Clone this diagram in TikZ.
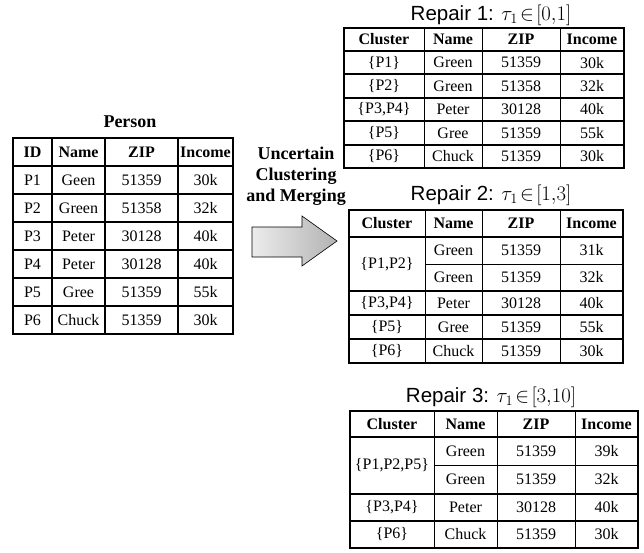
\documentclass[tikz,border=0pt]{standalone}
\usepackage{fontspec}
\setmainfont{Liberation Serif}
\newfontfamily\titlefont{Liberation Sans}

\begin{document}
\begin{tikzpicture}[x=1pt,y=-1pt,
    outer/.style={line width=2.6pt},
    sep/.style={line width=2pt},
    inner/.style={line width=1pt},
    cell/.style={font=\fontsize{16}{18}\selectfont},
    head/.style={font=\fontsize{16}{18}\selectfont\bfseries},
    reptitle/.style={font=\titlefont\fontsize{20.5}{23}\selectfont, inner sep=1pt}]
    \useasboundingbox (0,0) rectangle (644,553);
    % Person table
    \node[font=\fontsize{18}{20}\selectfont\bfseries] (person) at (130,122) {Person};
    \foreach \x in {52,105,178}
    {   \draw[sep] (\x,138) -- (\x,334); }
    \foreach \y in {166,194,222,250,278,306}
    {   \draw[sep] (13,\y) -- (233,\y); }
    \draw[outer] (13,138) rectangle (233,334);
    \node[head] (ph1) at (32.5,152) {ID};
    \node[head] (ph2) at (78.5,152) {Name};
    \node[head] (ph3) at (141.5,152) {ZIP};
    \node[head] (ph4) at (205.5,152) {Income};
    \foreach \y/\a/\b/\c/\d [count=\i] in {180/P1/Geen/51359/30k, 208/P2/Green/51358/32k,
        236/P3/Peter/30128/40k, 264/P4/Peter/30128/40k, 292/P5/Gree/51359/55k, 320/P6/Chuck/51359/30k}
    {   \node[cell] (p\i a) at (32.5,\y) {\a};
        \node[cell] (p\i b) at (78.5,\y) {\b};
        \node[cell] (p\i c) at (141.5,\y) {\c};
        \node[cell] (p\i d) at (205.5,\y) {\d};
    }
    % arrow
    \node[font=\fontsize{18}{21}\selectfont\bfseries, align=center] (method) at (296,176)
        {Uncertain\\Clustering\\and Merging};
    \draw[left color=gray!15, right color=gray!60, draw=black, line width=0.6pt]
        (252,227) -- (302,227) -- (302,216) -- (337,241) -- (302,266) -- (302,257) -- (252,257) -- cycle;
    % Repair 1
    \node[reptitle] (rep1) at (491,15) {Repair 1: $\tau_1\!\in\![0{,}1]$};
    \foreach \x in {424,482,560}
    {   \draw[inner] (\x,28) -- (\x,168); }
    \foreach \y in {51,74.4,97.8,121.2,144.6}
    {   \draw[sep] (344,\y) -- (624,\y); }
    \draw[outer] (344,28) rectangle (624,168);
    \node[head] (ra1) at (384,39.5) {Cluster};
    \node[head] (ra2) at (453,39.5) {Name};
    \node[head] (ra3) at (521,39.5) {ZIP};
    \node[head] (ra4) at (592,39.5) {Income};
    \foreach \y/\a/\b/\c/\d [count=\i] in {62.7/{\{P1\}}/Green/51359/30k, 86.1/{\{P2\}}/Green/51358/32k,
        109.5/{\{P3,P4\}}/Peter/30128/40k, 132.9/{\{P5\}}/Gree/51359/55k, 156.3/{\{P6\}}/Chuck/51359/30k}
    {   \node[cell] (r\i a) at (384,\y) {\a};
        \node[cell] (r\i b) at (453,\y) {\b};
        \node[cell] (r\i c) at (521,\y) {\c};
        \node[cell] (r\i d) at (592,\y) {\d};
    }
    % Repair 2
    \node[reptitle] (rep2) at (491,195) {Repair 2: $\tau_1\!\in\![1{,}3]$};
    \foreach \x in {425,482,560}
    {   \draw[inner] (\x,210) -- (\x,363); }
    \draw[inner] (425,264) -- (623,264);
    \foreach \y in {237,291,315,339}
    {   \draw[sep] (349,\y) -- (623,\y); }
    \draw[outer] (349,210) rectangle (623,363);
    \node[head] (sa1) at (387,223.5) {Cluster};
    \node[head] (sa2) at (453.5,223.5) {Name};
    \node[head] (sa3) at (521,223.5) {ZIP};
    \node[head] (sa4) at (591.5,223.5) {Income};
    \node[cell] (sg1) at (387,264) {\{P1,P2\}};
    \foreach \y/\a/\b/\c/\d [count=\i] in {250.5/{}/Green/51359/31k, 277.5/{}/Green/51359/32k,
        303/{\{P3,P4\}}/Peter/30128/40k, 327/{\{P5\}}/Gree/51359/55k, 351/{\{P6\}}/Chuck/51359/30k}
    {   \node[cell] (s\i a) at (387,\y) {\a};
        \node[cell] (s\i b) at (453.5,\y) {\b};
        \node[cell] (s\i c) at (521,\y) {\c};
        \node[cell] (s\i d) at (591.5,\y) {\d};
    }
    % Repair 3
    \node[reptitle] (rep3) at (491,397) {Repair 3: $\tau_1\!\in\![3{,}10]$};
    \foreach \x in {434,497,575}
    {   \draw[inner] (\x,411) -- (\x,548); }
    \draw[inner] (434,465) -- (638,465);
    \foreach \y in {437,494,521}
    {   \draw[sep] (350,\y) -- (638,\y); }
    \draw[outer] (350,411) rectangle (638,548);
    \node[head] (ta1) at (392,424) {Cluster};
    \node[head] (ta2) at (465.5,424) {Name};
    \node[head] (ta3) at (536,424) {ZIP};
    \node[head] (ta4) at (606.5,424) {Income};
    \node[cell] (tg1) at (392,465) {\{P1,P2,P5\}};
    \foreach \y/\a/\b/\c/\d [count=\i] in {451/{}/Green/51359/39k, 479.5/{}/Green/51359/32k,
        507.5/{\{P3,P4\}}/Peter/30128/40k, 534.5/{\{P6\}}/Chuck/51359/30k}
    {   \node[cell] (t\i a) at (392,\y) {\a};
        \node[cell] (t\i b) at (465.5,\y) {\b};
        \node[cell] (t\i c) at (536,\y) {\c};
        \node[cell] (t\i d) at (606.5,\y) {\d};
    }
\end{tikzpicture}
\end{document}
